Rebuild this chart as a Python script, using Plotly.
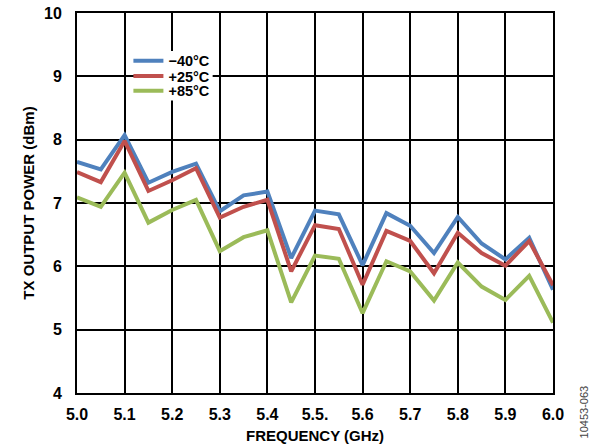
import plotly.graph_objects as go

# Frecuencia (GHz), paso de 0.05
freq = [5.00, 5.05, 5.10, 5.15, 5.20, 5.25, 5.30, 5.35, 5.40, 5.45, 5.50,
        5.55, 5.60, 5.65, 5.70, 5.75, 5.80, 5.85, 5.90, 5.95, 6.00]

# Potencia de salida TX (dBm) por temperatura
p_m40 = [7.65, 7.53, 8.07, 7.32, 7.49, 7.62, 6.87, 7.12, 7.18, 6.13, 6.88,
         6.82, 6.02, 6.84, 6.64, 6.21, 6.78, 6.36, 6.11, 6.45, 5.63]
p_25 = [7.49, 7.33, 7.98, 7.19, 7.36, 7.55, 6.77, 6.94, 7.05, 5.92, 6.65,
        6.59, 5.71, 6.56, 6.40, 5.89, 6.53, 6.21, 6.01, 6.40, 5.70]
p_85 = [7.09, 6.94, 7.48, 6.69, 6.89, 7.05, 6.24, 6.46, 6.57, 5.43, 6.17,
        6.12, 5.26, 6.08, 5.92, 5.46, 6.06, 5.68, 5.47, 5.85, 5.11]

x_ticks = [5.0, 5.1, 5.2, 5.3, 5.4, 5.5, 5.6, 5.7, 5.8, 5.9, 6.0]
x_labels = ["5.0", "5.1", "5.2", "5.3", "5.4", "5.5.", "5.6", "5.7", "5.8", "5.9", "6.0"]
y_ticks = [4, 5, 6, 7, 8, 9, 10]

series = [
    ("\u221240\u00b0C", p_m40, "#4F81BD", "legend"),
    ("+25\u00b0C", p_25, "#C0504D", "legend2"),
    ("+85\u00b0C", p_85, "#9BBB59", "legend3"),
]

FONT = "Liberation Sans, Arial, sans-serif"

fig = go.Figure()
for name, vals, color, leg in series:
    fig.add_trace(
        go.Scatter(
            x=freq,
            y=vals,
            mode="lines",
            name=f"<b>{name}</b>",
            line=dict(color=color, width=4),
            legend=leg,
        )
    )

fig.update_xaxes(
    range=[5.0, 6.0],
    tickvals=x_ticks,
    ticktext=[f"<b>{t}</b>" for t in x_labels],
    showgrid=True,
    gridcolor="black",
    gridwidth=1.5,
    showline=True,
    linecolor="black",
    linewidth=2,
    mirror=True,
    ticks="",
    ticklabelstandoff=6,
    tickfont=dict(family=FONT, size=16, color="black"),
    title=dict(text="<b>FREQUENCY (GHz)</b>",
               font=dict(family=FONT, size=15, color="black"), standoff=8),
    zeroline=False,
    automargin=False,
)
fig.update_yaxes(
    range=[4, 10],
    tickvals=y_ticks,
    ticktext=[f"<b>{v}</b>" for v in y_ticks],
    showgrid=True,
    gridcolor="black",
    gridwidth=1.5,
    showline=True,
    linecolor="black",
    linewidth=2,
    mirror=True,
    ticks="",
    ticklabelstandoff=10,
    tickfont=dict(family=FONT, size=16, color="black"),
    title=dict(text="<b>TX OUTPUT POWER (dBm)</b>",
               font=dict(family=FONT, size=15, color="black"), standoff=6),
    zeroline=False,
    automargin=False,
)

leg_style = dict(
    x=0.108,
    xanchor="left",
    yanchor="middle",
    bgcolor="rgba(0,0,0,0)",
    font=dict(family=FONT, size=14.5, color="black"),
    itemwidth=30,
)

fig.update_layout(
    width=592,
    height=446,
    margin=dict(l=77, r=39, t=13, b=53),
    paper_bgcolor="white",
    plot_bgcolor="white",
    showlegend=True,
    legend=dict(y=0.874, **leg_style),
    legend2=dict(y=0.834, **leg_style),
    legend3=dict(y=0.795, **leg_style),
    # fondo blanco detrás de la leyenda
    shapes=[
        dict(
            type="rect",
            xref="paper",
            yref="paper",
            x0=0.126,
            x1=0.285,
            y0=0.77,
            y1=0.90,
            fillcolor="white",
            line=dict(width=0),
            layer="above",
        )
    ],
    annotations=[
        dict(
            text="10453-063",
            xref="paper",
            yref="paper",
            x=1.066,
            y=-0.125,
            xanchor="center",
            yanchor="bottom",
            textangle=-90,
            showarrow=False,
            font=dict(family=FONT, size=11, color="#444"),
        )
    ],
)

fig.write_html(
    "out.html",
    config={"displayModeBar": False},
    post_script="document.body.style.margin='0';document.body.style.overflow='hidden';",
)
